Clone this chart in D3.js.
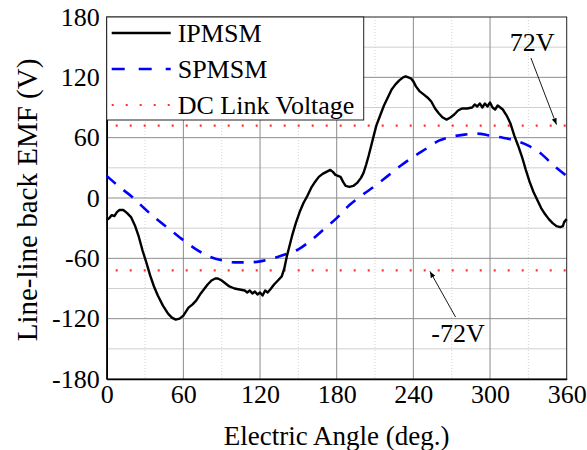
<!DOCTYPE html>
<html>
<head>
<meta charset="utf-8">
<script src="https://cdn.jsdelivr.net/npm/d3@7"></script>
<style>
  body { margin: 0; background: #fff; }
  text { font-family: "Liberation Serif", "Times New Roman", serif; fill: #000; }
</style>
</head>
<body>
<svg id="chart" width="587" height="450"></svg>
<script>
// IPMSM measured back EMF (deg, V)
const ipmAngle = [0, 2, 4, 6, 8, 10, 13, 16, 19, 22, 25, 28, 31, 34, 37, 40, 44, 48, 51, 54, 57, 60, 62, 64, 67, 70, 73, 76, 79, 82, 85, 87, 90, 93, 96, 100, 104, 108, 110, 112, 114, 116, 118, 120, 122, 124, 126, 128, 131, 134, 137, 139, 141, 143, 145, 148, 151, 154, 157, 160, 163, 166, 169, 172, 175, 177, 179, 181, 183, 185, 187, 190, 193, 196, 199, 201, 203, 205, 207, 209, 211, 214, 217, 220, 223, 226, 229, 232, 234, 236, 238, 240, 242, 245, 248, 251, 254, 257, 260, 263, 266, 269, 272, 275, 278, 282, 286, 288, 290, 292, 294, 296, 298, 300, 302, 304, 306, 308, 310, 313, 316, 319, 322, 325, 328, 331, 334, 337, 340, 343, 346, 349, 352, 355, 357, 358, 360]
const ipmVolt = [-22, -20, -17, -18, -14, -12, -12, -15, -19, -27, -38, -52, -64, -77, -88, -97, -107, -115, -119, -121, -120, -117, -113, -109, -106, -102, -96, -91, -86, -82, -80, -80, -82, -85, -88, -90, -91, -92, -94, -92, -95, -93, -96, -94, -97, -92, -94, -91, -86, -82, -78, -70, -58, -48, -38, -25, -14, -5, 2, 10, 16, 21, 24, 26, 28, 26, 23, 22, 21, 16, 12, 11, 12, 15, 20, 25, 33, 42, 52, 62, 72, 82, 92, 100, 108, 113, 117, 120, 121, 120, 119, 116, 111, 106, 103, 100, 96, 89, 84, 80, 78, 80, 83, 87, 89, 89, 90, 93, 91, 94, 90, 94, 91, 95, 90, 88, 92, 90, 88, 82, 74, 62, 52, 41, 28, 16, 6, -2, -10, -16, -21, -25, -28, -29, -28, -24, -21]

// SPMSM back EMF
const spmAngle = [0, 10, 20, 30, 40, 50, 60, 70, 80, 90, 100, 110, 120, 130, 140, 150, 160, 170, 180, 190, 200, 210, 220, 230, 240, 250, 260, 270, 280, 290, 300, 310, 320, 330, 340, 350, 360]
const spmVolt = [22, 11, 1, -11, -22, -32, -42, -51, -58, -62, -64, -64, -63, -60, -56, -51, -42, -31, -20, -7, 3, 12, 22, 32, 41, 49, 57, 61, 63, 64, 62, 60, 57, 52, 44, 32, 22]

const dcLink = [72, -72]
const xTicks = [0, 60, 120, 180, 240, 300, 360]
const yTicks = [-180, -120, -60, 0, 60, 120, 180]
const seriesNames = ['IPMSM', 'SPMSM', 'DC Link Voltage']

const serif = '"Liberation Serif", "Times New Roman", serif'
const svg = d3.select('#chart')
const margin = {left: 106.7, right: 20.3, top: 17, bottom: 71}
const W = 587 - margin.left - margin.right
const H = 450 - margin.top - margin.bottom

const x = d3.scaleLinear().domain([0, 360]).range([0, W])
const y = d3.scaleLinear().domain([-180, 180]).range([H, 0])

const g = svg.append('g').attr('transform', `translate(${margin.left},${margin.top})`)

// grid
g.append('g').selectAll('line').data(d3.range(30, 360, 60))
  .join('line')
  .attr('x1', d => x(d)).attr('x2', d => x(d)).attr('y1', 0).attr('y2', H)
  .attr('stroke', '#d4d4d4').attr('stroke-dasharray', '1,2')
g.append('g').selectAll('line').data(d3.range(-150, 180, 60))
  .join('line')
  .attr('y1', d => y(d)).attr('y2', d => y(d)).attr('x1', 0).attr('x2', W)
  .attr('stroke', '#cfcfcf')
g.append('g').selectAll('line').data(xTicks.slice(1, -1))
  .join('line')
  .attr('x1', d => x(d)).attr('x2', d => x(d)).attr('y1', 0).attr('y2', H)
  .attr('stroke', '#8c8c8c')
g.append('g').selectAll('line').data(yTicks.slice(1, -1))
  .join('line')
  .attr('y1', d => y(d)).attr('y2', d => y(d)).attr('x1', 0).attr('x2', W)
  .attr('stroke', '#8c8c8c')

// frame
g.append('rect').attr('width', W).attr('height', H)
  .attr('fill', 'none').attr('stroke', '#222').attr('stroke-width', 1)

// axes (plain hyphen for negatives, like the original)
const fmt = d => String(d)
const xAxis = g.append('g').attr('transform', `translate(0,${H})`)
  .call(d3.axisBottom(x).tickValues(xTicks).tickFormat(fmt).tickSize(0).tickPadding(6))
xAxis.select('.domain').attr('stroke', '#000').attr('stroke-width', 1.6)
xAxis.selectAll('text').style('font-size', '26px').style('font-family', serif)

const yAxis = g.append('g')
  .call(d3.axisLeft(y).tickValues(yTicks).tickFormat(fmt).tickSize(0).tickPadding(7))
yAxis.select('.domain').attr('stroke', '#000').attr('stroke-width', 1.6)
yAxis.selectAll('text').style('font-size', '26px').style('font-family', serif)

// DC link lines
g.append('g').selectAll('line').data(dcLink)
  .join('line')
  .attr('x1', 9).attr('x2', W).attr('y1', d => y(d)).attr('y2', d => y(d))
  .attr('stroke', '#ff3030').attr('stroke-width', 2.2)
  .attr('stroke-dasharray', '2,12')

const line = d3.line().x(d => x(d[0])).y(d => y(d[1])).curve(d3.curveMonotoneX)

g.append('path')
  .datum(d3.zip(spmAngle, spmVolt))
  .attr('d', line)
  .attr('fill', 'none').attr('stroke', '#0000ff').attr('stroke-width', 2.6)
  .attr('stroke-dasharray', '12,10')

g.append('path')
  .datum(d3.zip(ipmAngle, ipmVolt))
  .attr('d', d3.line().x(d => x(d[0])).y(d => y(d[1])))
  .attr('fill', 'none').attr('stroke', '#000').attr('stroke-width', 2.4)
  .attr('stroke-linejoin', 'round')

// legend
const leg = g.append('g')
leg.append('rect').attr('x', 0).attr('y', 0).attr('width', 257).attr('height', 103)
  .attr('fill', '#fff').attr('stroke', '#222').attr('stroke-width', 1)
const legY = [16, 52, 88]
const legStyle = [
  {stroke: '#000', dash: null, w: 2.4},
  {stroke: '#0000ff', dash: '13,14', w: 2.6},
  {stroke: '#ff3030', dash: '2,12', w: 2.2}
]
seriesNames.forEach((name, i) => {
  leg.append('line').attr('x1', 5).attr('x2', 64).attr('y1', legY[i]).attr('y2', legY[i])
    .attr('stroke', legStyle[i].stroke).attr('stroke-width', legStyle[i].w)
    .attr('stroke-dasharray', legStyle[i].dash)
  leg.append('text').attr('x', 71).attr('y', legY[i]).attr('dy', '0.35em')
    .attr('font-size', 26).text(name)
})

// annotations
svg.append('defs').append('marker').attr('id', 'arr')
  .attr('viewBox', '0 0 10 10').attr('refX', 10).attr('refY', 5)
  .attr('markerWidth', 7).attr('markerHeight', 7).attr('orient', 'auto')
  .append('path').attr('d', 'M0,1 L10,5 L0,9 Z').attr('fill', '#000')

g.append('line')
  .attr('x1', x(332)).attr('y1', 41).attr('x2', x(352)).attr('y2', y(dcLink[0]) - 1)
  .attr('stroke', '#000').attr('stroke-width', 0.9).attr('marker-end', 'url(#arr)')
g.append('text').attr('x', x(333)).attr('y', 34).attr('text-anchor', 'middle')
  .attr('font-size', 26).text('72V')

g.append('line')
  .attr('x1', x(273)).attr('y1', 300).attr('x2', x(253)).attr('y2', y(dcLink[1]) + 1)
  .attr('stroke', '#000').attr('stroke-width', 0.9).attr('marker-end', 'url(#arr)')
g.append('text').attr('x', x(275)).attr('y', 325).attr('text-anchor', 'middle')
  .attr('font-size', 26).text('-72V')

// axis titles
svg.append('text').attr('x', margin.left + W / 2).attr('y', 445)
  .attr('text-anchor', 'middle').attr('font-size', 27).text('Electric Angle (deg.)')
svg.append('text').attr('transform', `translate(37,${margin.top + H / 2 + 2}) rotate(-90)`)
  .attr('text-anchor', 'middle').attr('font-size', 29).text('Line-line back EMF (V)')
</script>
</body>
</html>
